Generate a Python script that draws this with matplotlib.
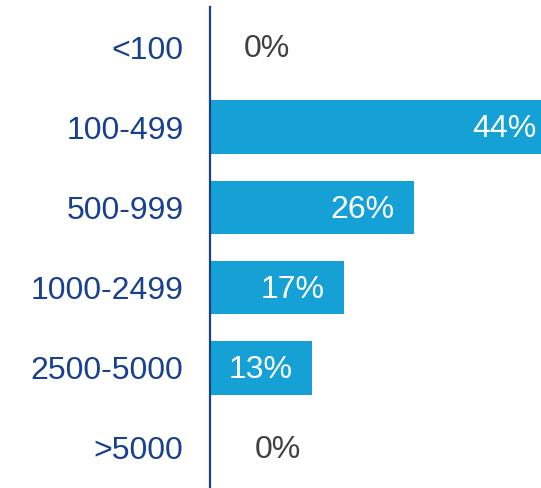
import matplotlib
matplotlib.use("Agg")
import matplotlib.pyplot as plt

categories = ["<100", "100-499", "500-999", "1000-2499", "2500-5000", ">5000"]
values = [0, 44, 26, 17, 13, 0]
labels = ["0%", "44%", "26%", "17%", "13%", "0%"]

plt.rcParams['font.family'] = ['Liberation Sans', 'DejaVu Sans']

bar_color = "#15A1D5"
axis_color = "#17408F"
tick_color = "#17408F"
zero_color = "#404040"

fig = plt.figure(figsize=(5.41, 4.88), dpi=100)
ax = fig.add_axes([210/541, 0.0, 1 - 210/541, 1 - 7/488])

y = list(range(len(categories)))
ax.barh(y, values, height=0.67, color=bar_color, zorder=2)

ax.set_ylim(len(categories) - 0.5, -0.5)
ax.set_xlim(0, 42.1)
ax.set_yticks(y)
ax.set_yticklabels(categories, fontsize=23, color=tick_color)
ax.tick_params(axis='y', length=0, pad=19)
ax.set_xticks([])
for s in ["top", "right", "bottom"]:
    ax.spines[s].set_visible(False)
ax.spines["left"].set_color(axis_color)
ax.spines["left"].set_linewidth(1.6)
ax.spines["left"].set_zorder(3)

zero_offsets = {0: 24, 5: 32}
for i, (v, lab) in enumerate(zip(values, labels)):
    if v == 0:
        ax.annotate(lab, xy=(0, i), xytext=(zero_offsets.get(i, 24), -1.5),
                    textcoords="offset points", ha="left", va="center",
                    fontsize=23, color=zero_color, annotation_clip=False)
    else:
        ax.annotate(lab, xy=(v, i), xytext=(-14, -1.5),
                    textcoords="offset points", ha="right", va="center",
                    fontsize=23, color="white", annotation_clip=False, zorder=4)

fig.savefig("out.png", dpi=100)
